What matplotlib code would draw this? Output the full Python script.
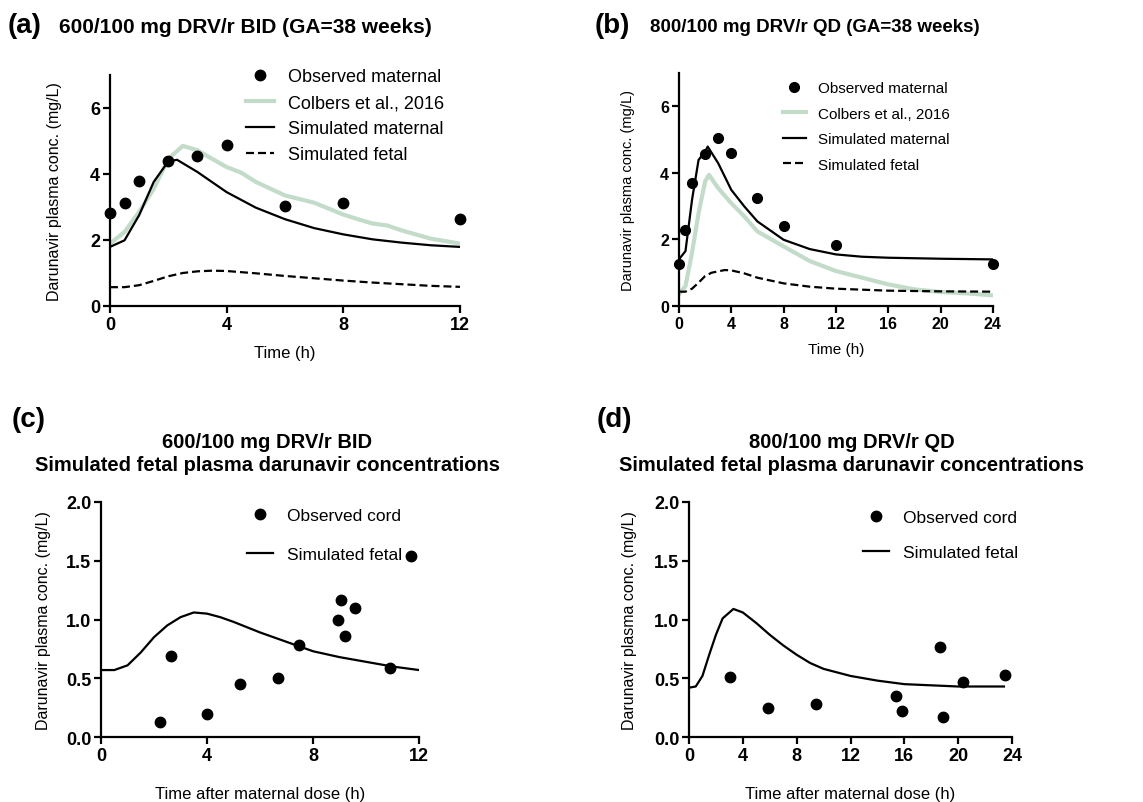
import numpy as np
import matplotlib
matplotlib.use("Agg")
import matplotlib.pyplot as plt

plt.rcParams['font.family'] = ['Liberation Sans', 'DejaVu Sans']

# Data ........................................................................

# (a) 600/100 mg BID
a_obs_t = [0, 0.5, 1, 2, 3, 4, 6, 8, 12]
a_obs_c = [2.83, 3.13, 3.78, 4.39, 4.55, 4.87, 3.03, 3.13, 2.63]
a_col_t = [0, 0.5, 1, 1.5, 2, 2.5, 3, 3.5, 4, 4.5, 5, 6, 7, 8, 8.5, 9, 9.5, 10, 11, 12]
a_col_c = [1.89, 2.24, 2.85, 3.55, 4.46, 4.85, 4.72, 4.46, 4.21, 4.04, 3.76, 3.35,
           3.13, 2.77, 2.63, 2.50, 2.44, 2.29, 2.04, 1.89]
a_mat_t = [0, 0.5, 1, 1.5, 2, 2.3, 3, 4, 5, 6, 7, 8, 9, 10, 11, 12]
a_mat_c = [1.79, 1.99, 2.75, 3.76, 4.38, 4.43, 4.06, 3.45, 2.98, 2.63, 2.36, 2.17,
           2.02, 1.92, 1.84, 1.79]
a_fet_t = [0, 0.5, 1, 1.5, 2, 2.5, 3, 3.5, 4, 5, 6, 7, 8, 9, 10, 11, 12]
a_fet_c = [0.57, 0.57, 0.63, 0.76, 0.90, 1.00, 1.05, 1.07, 1.06, 0.99, 0.91, 0.84,
           0.77, 0.71, 0.66, 0.61, 0.58]

# (b) 800/100 mg QD
b_obs_t = [0, 0.5, 1, 2, 3, 4, 6, 8, 12, 24]
b_obs_c = [1.25, 2.27, 3.69, 4.56, 5.06, 4.61, 3.24, 2.39, 1.82, 1.25]
b_col_t = [0, 0.5, 1, 1.5, 2, 2.3, 3, 4, 5, 6, 8, 10, 12, 14, 16, 18, 20, 22, 24]
b_col_c = [0.35, 0.60, 1.60, 2.79, 3.74, 3.94, 3.54, 3.09, 2.69, 2.24, 1.79, 1.35,
           1.05, 0.85, 0.65, 0.50, 0.42, 0.38, 0.32]
b_mat_t = [0, 0.5, 1, 1.5, 2, 2.2, 3, 4, 5, 6, 8, 10, 12, 14, 16, 20, 24]
b_mat_c = [1.40, 1.65, 3.19, 4.39, 4.64, 4.79, 4.29, 3.49, 2.99, 2.54, 1.99, 1.71,
           1.55, 1.48, 1.45, 1.42, 1.40]
b_fet_t = [0, 0.5, 1, 1.5, 2, 2.5, 3.5, 4, 5, 6, 8, 10, 12, 16, 20, 24]
b_fet_c = [0.43, 0.43, 0.52, 0.70, 0.90, 1.00, 1.08, 1.07, 0.98, 0.85, 0.68, 0.58,
           0.52, 0.46, 0.44, 0.43]

# (c) cord vs simulated fetal, BID
c_obs_t = [2.24, 2.63, 4.0, 5.23, 6.67, 7.46, 8.93, 9.07, 9.21, 9.57, 10.9, 11.7]
c_obs_c = [0.13, 0.69, 0.20, 0.45, 0.50, 0.78, 1.00, 1.17, 0.86, 1.10, 0.59, 1.54]
c_fet_t = [0, 0.5, 1, 1.5, 2, 2.5, 3, 3.5, 4, 4.5, 5, 6, 7, 8, 9, 10, 11, 12]
c_fet_c = [0.57, 0.57, 0.61, 0.72, 0.85, 0.95, 1.02, 1.06, 1.05, 1.02, 0.98, 0.89,
           0.81, 0.73, 0.68, 0.64, 0.60, 0.57]

# (d) cord vs simulated fetal, QD
d_obs_t = [3.03, 5.86, 9.43, 15.36, 15.83, 18.66, 18.9, 20.37, 23.5]
d_obs_c = [0.51, 0.25, 0.28, 0.35, 0.22, 0.77, 0.17, 0.47, 0.53]
d_fet_t = [0, 0.5, 1, 1.5, 2, 2.5, 3, 3.3, 4, 5, 6, 7, 8, 9, 10, 12, 14, 16, 18, 20, 22, 23.4]
d_fet_c = [0.42, 0.43, 0.52, 0.70, 0.87, 1.01, 1.06, 1.09, 1.06, 0.97, 0.87, 0.78,
           0.70, 0.63, 0.58, 0.52, 0.48, 0.45, 0.44, 0.43, 0.43, 0.43]

green = "#c3dbc9"
ylab = "Darunavir plasma conc. (mg/L)"


# Helpers .....................................................................

def style_axes(ax, tick_fs):
    for s in ["top", "right"]:
        ax.spines[s].set_visible(False)
    for s in ["left", "bottom"]:
        ax.spines[s].set_linewidth(1.6)
    ax.tick_params(direction="out", length=5, width=1.6, labelsize=tick_fs, pad=2)
    for lab in ax.get_xticklabels() + ax.get_yticklabels():
        lab.set_fontweight("bold")


fig = plt.figure(figsize=(11.43, 8.03), dpi=100)


# (a) .........................................................................

ax = fig.add_axes([0.0962, 0.6177, 0.3062, 0.2877])
ax.plot(a_col_t, a_col_c, color=green, lw=3, label="Colbers et al., 2016")
ax.plot(a_mat_t, a_mat_c, color="black", lw=1.6, label="Simulated maternal")
ax.plot(a_fet_t, a_fet_c, color="black", lw=1.6, dashes=(3.6, 1.8), label="Simulated fetal")
ax.plot(a_obs_t, a_obs_c, "o", color="black", ms=7.5, clip_on=False, label="Observed maternal")
ax.set_xlim(0, 12)
ax.set_ylim(0, 7)
ax.set_xticks([0, 4, 8, 12])
ax.set_yticks([0, 2, 4, 6])
ax.set_xlabel("Time (h)", fontsize=12, labelpad=9)
ax.set_ylabel(ylab, fontsize=11.5, labelpad=20)
style_axes(ax, 13)
h, l = ax.get_legend_handles_labels()
order = [3, 0, 1, 2]
ax.legend([h[i] for i in order], [l[i] for i in order], loc="upper left",
          bbox_to_anchor=(0.39, 1.03), frameon=False, fontsize=13, borderpad=0,
          handlelength=1.5, handletextpad=0.8, labelspacing=0.5, borderaxespad=0)

fig.text(0.007, 0.968, "(a)", fontsize=20, fontweight="bold", va="center")
fig.text(0.052, 0.966, "600/100 mg DRV/r BID (GA=38 weeks)", fontsize=15,
         fontweight="bold", va="center")


# (b) .........................................................................

ax = fig.add_axes([0.594, 0.6177, 0.2747, 0.2901])
ax.plot(b_col_t, b_col_c, color=green, lw=3, label="Colbers et al., 2016")
ax.plot(b_mat_t, b_mat_c, color="black", lw=1.6, label="Simulated maternal")
ax.plot(b_fet_t, b_fet_c, color="black", lw=1.6, dashes=(3.6, 1.8), label="Simulated fetal")
ax.plot(b_obs_t, b_obs_c, "o", color="black", ms=7, clip_on=False, label="Observed maternal")
ax.set_xlim(0, 24)
ax.set_ylim(0, 7)
ax.set_xticks([0, 4, 8, 12, 16, 20, 24])
ax.set_yticks([0, 2, 4, 6])
ax.set_xlabel("Time (h)", fontsize=11, labelpad=8)
ax.set_ylabel(ylab, fontsize=10.5, labelpad=18)
style_axes(ax, 11.5)
h, l = ax.get_legend_handles_labels()
ax.legend([h[i] for i in order], [l[i] for i in order], loc="upper left",
          bbox_to_anchor=(0.331, 0.965), frameon=False, fontsize=11, borderpad=0,
          handlelength=1.5, handletextpad=0.8, labelspacing=0.75, borderaxespad=0)

fig.text(0.52, 0.968, "(b)", fontsize=20, fontweight="bold", va="center")
fig.text(0.569, 0.966, "800/100 mg DRV/r QD (GA=38 weeks)", fontsize=13.5,
         fontweight="bold", va="center")


# (c) .........................................................................

ax = fig.add_axes([0.0884, 0.0809, 0.2782, 0.2927])
ax.plot(c_obs_t, c_obs_c, "o", color="black", ms=7.5, clip_on=False, label="Observed cord")
ax.plot(c_fet_t, c_fet_c, color="black", lw=1.6, label="Simulated fetal")
ax.set_xlim(0, 12)
ax.set_ylim(0, 2.0)
ax.set_xticks([0, 4, 8, 12])
ax.set_yticks([0, 0.5, 1.0, 1.5, 2.0])
ax.set_yticklabels(["0.0", "0.5", "1.0", "1.5", "2.0"])
ax.set_xlabel("Time after maternal dose (h)", fontsize=12, labelpad=16)
ax.set_ylabel(ylab, fontsize=11.5, labelpad=11)
style_axes(ax, 13)
ax.legend(loc="upper left", bbox_to_anchor=(0.459, 0.975), frameon=False, fontsize=12.5,
          borderpad=0, handlelength=1.5, handletextpad=0.8, labelspacing=1.4,
          borderaxespad=0)

fig.text(0.01, 0.477, "(c)", fontsize=20, fontweight="bold", va="center")
fig.text(0.234, 0.435, "600/100 mg DRV/r BID\nSimulated fetal plasma darunavir concentrations",
         fontsize=14.5, fontweight="bold", ha="center", va="center", linespacing=1.25)


# (d) .........................................................................

ax = fig.add_axes([0.6028, 0.0809, 0.2826, 0.2927])
ax.plot(d_obs_t, d_obs_c, "o", color="black", ms=7.5, clip_on=False, label="Observed cord")
ax.plot(d_fet_t, d_fet_c, color="black", lw=1.6, label="Simulated fetal")
ax.set_xlim(0, 24)
ax.set_ylim(0, 2.0)
ax.set_xticks([0, 4, 8, 12, 16, 20, 24])
ax.set_yticks([0, 0.5, 1.0, 1.5, 2.0])
ax.set_yticklabels(["0.0", "0.5", "1.0", "1.5", "2.0"])
ax.set_xlabel("Time after maternal dose (h)", fontsize=12, labelpad=16)
ax.set_ylabel(ylab, fontsize=11.5, labelpad=12)
style_axes(ax, 13)
ax.legend(loc="upper left", bbox_to_anchor=(0.539, 0.965), frameon=False, fontsize=12.5,
          borderpad=0, handlelength=1.5, handletextpad=0.8, labelspacing=1.15,
          borderaxespad=0)

fig.text(0.522, 0.477, "(d)", fontsize=20, fontweight="bold", va="center")
fig.text(0.745, 0.435, "800/100 mg DRV/r QD\nSimulated fetal plasma darunavir concentrations",
         fontsize=14.5, fontweight="bold", ha="center", va="center", linespacing=1.25)

fig.savefig("out.png", dpi=100)
